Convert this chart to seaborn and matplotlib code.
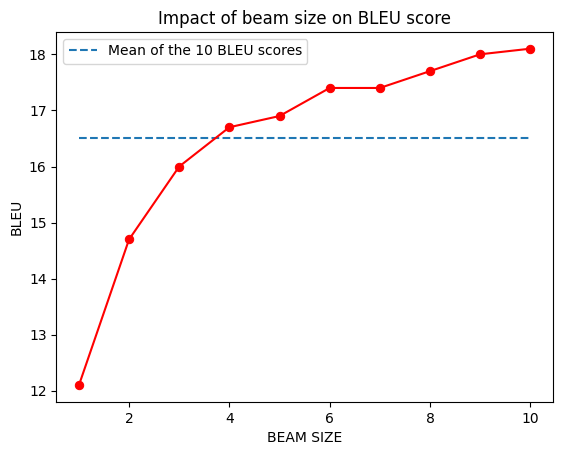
import numpy as np
import pandas as pd
import matplotlib
matplotlib.use('Agg')
import matplotlib.pyplot as plt
import seaborn as sns

beam_sizes = [1, 2, 3, 4, 5, 6, 7, 8, 9, 10]
bleu_scores = [12.1, 14.7, 16.0, 16.7, 16.9, 17.4, 17.4, 17.7, 18.0, 18.1]

df = pd.DataFrame({'beam': beam_sizes, 'bleu': bleu_scores})
df['mean'] = np.mean(bleu_scores)

fig, ax = plt.subplots(figsize=(5.63, 4.55), dpi=100)
fig.subplots_adjust(left=0.100, right=0.982, top=0.930, bottom=0.116)

sns.lineplot(data=df, x='beam', y='mean', ax=ax, linestyle='--', color='#1f77b4',
             label='Mean of the 10 BLEU scores')
sns.lineplot(data=df, x='beam', y='bleu', ax=ax, color='red', marker='o',
             markersize=6, markeredgecolor='red')

ax.set_xlabel('BEAM SIZE')
ax.set_ylabel('BLEU')
ax.set_title('Impact of beam size on BLEU score')
ax.legend(loc='upper left')

fig.savefig('out.png', dpi=100)
